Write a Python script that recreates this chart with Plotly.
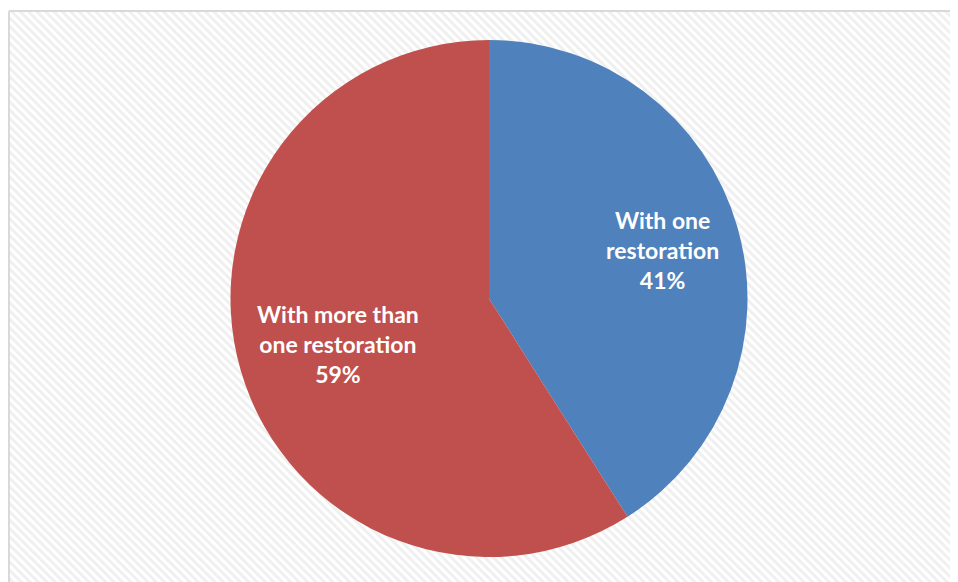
import base64
import math
import plotly.graph_objects as go

# figure is placed by the page with an 8px body offset
W, H = 950, 574
OFF = 8

labels = ["With one<br>restoration", "With more than<br>one restoration"]
values = [41, 59]
colors = ["#4F81BD", "#C0504D"]

# layout (pixel) constants in figure coordinates
CX, CY, R = 489 - OFF, 298.5 - OFF, 258.5
LABEL_RADIUS = [0.70, 0.61]
BX, BY = 1, 3  # chart-area border (left / top)

svg = (
    "<svg xmlns='http://www.w3.org/2000/svg' width='958' height='582'>"
    "<defs><pattern id='p' width='6' height='6' patternUnits='userSpaceOnUse' "
    "patternTransform='rotate(-45)'><rect width='6' height='6' fill='#ffffff'/>"
    "<rect width='3' height='6' fill='#f0f0f0'/></pattern></defs>"
    "<rect width='958' height='582' fill='url(#p)'/></svg>"
)
src = "data:image/svg+xml;base64," + base64.b64encode(svg.encode()).decode()

fig = go.Figure(
    go.Pie(
        labels=labels,
        values=values,
        sort=False,
        direction="clockwise",
        rotation=0,
        marker=dict(colors=colors, line=dict(width=0)),
        textinfo="none",
        showlegend=False,
        hoverinfo="label+percent",
        domain=dict(x=[(CX - R) / W, (CX + R) / W], y=[1 - (CY + R) / H, 1 - (CY - R) / H]),
    )
)

total = sum(values)
annotations = []
cum = 0
for lab, v, rf in zip(labels, values, LABEL_RADIUS):
    mid = (cum + v / 2) / total * 2 * math.pi
    cum += v
    px = CX + rf * R * math.sin(mid)
    py = CY - rf * R * math.cos(mid) + 2
    annotations.append(
        dict(
            x=px / W, y=1 - py / H, xref="paper", yref="paper",
            text=f"<b>{lab}<br>{round(v / total * 100)}%</b>",
            showarrow=False, align="center",
            font=dict(family="Lato", size=23, color="white"),
            xanchor="center", yanchor="middle",
        )
    )

fig.update_layout(
    width=W,
    height=H,
    margin=dict(l=0, r=0, t=0, b=0),
    paper_bgcolor="white",
    annotations=annotations,
    images=[
        dict(
            source=src, xref="paper", yref="paper",
            x=BX / W, y=1 - BY / H, sizex=1, sizey=1,
            xanchor="left", yanchor="top", sizing="stretch", layer="below",
        )
    ],
    shapes=[
        dict(type="line", xref="paper", yref="paper", x0=BX / W, x1=1, y0=1 - BY / H, y1=1 - BY / H,
             line=dict(color="#d9d9d9", width=2)),
        dict(type="line", xref="paper", yref="paper", x0=BX / W, x1=BX / W, y0=1 - BY / H, y1=0,
             line=dict(color="#d9d9d9", width=2)),
    ],
)

fig.write_html("out.html")
